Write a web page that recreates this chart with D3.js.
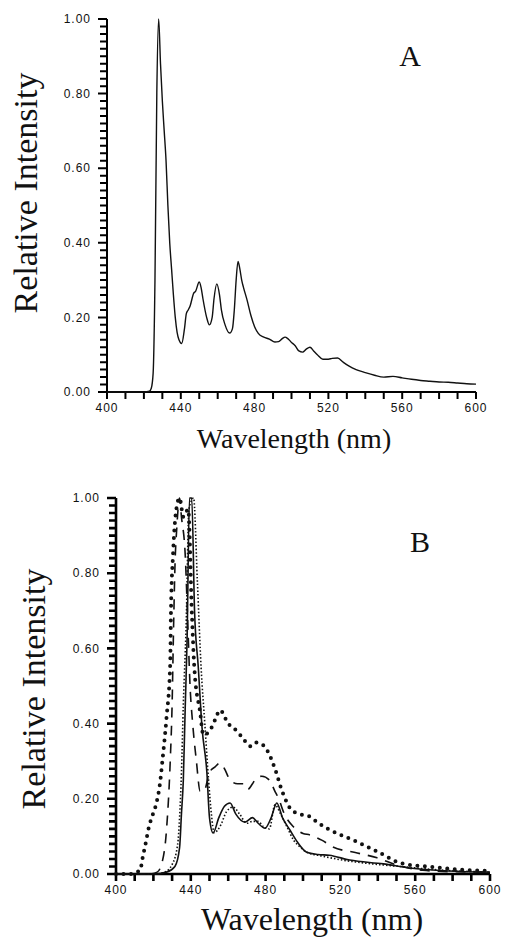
<!DOCTYPE html>
<html>
<head>
<meta charset="utf-8">
<script src="https://cdn.jsdelivr.net/npm/d3@7"></script>
<style>
  body { margin: 0; background: #fff; }
  svg { display: block; }
</style>
</head>
<body>
<svg id="chart"></svg>
<script>
// ---- data ----
const yTicks = [0, 0.2, 0.4, 0.6, 0.8, 1.0]
const xTicks = [400, 440, 480, 520, 560, 600]

// panel A : single spectrum
const nmA = [400, 410, 420, 423, 424, 425, 426, 427, 428, 429, 430, 431, 432, 433, 434, 435, 436, 437, 438, 439, 440.5, 442, 443, 444, 445, 447, 448, 450, 451, 452, 454, 455.5, 457, 458, 459.5, 461, 462, 464, 466.5, 468, 469, 470, 471, 472, 473, 474, 476, 478, 480, 482, 485, 488, 491, 493, 495, 496.5, 498, 500, 502, 504, 506, 508, 510, 512, 514, 517, 520, 522, 525, 528, 531, 535, 540, 545, 550, 555, 560, 565, 570, 575, 580, 585, 590, 595, 600]
const intA = [0, 0, 0, 0.002, 0.01, 0.05, 0.3, 0.8, 1.0, 0.88, 0.78, 0.7, 0.62, 0.5, 0.4, 0.33, 0.26, 0.2, 0.16, 0.14, 0.13, 0.17, 0.21, 0.22, 0.23, 0.265, 0.27, 0.295, 0.28, 0.25, 0.2, 0.18, 0.2, 0.25, 0.29, 0.26, 0.22, 0.18, 0.158, 0.17, 0.22, 0.3, 0.35, 0.33, 0.3, 0.28, 0.245, 0.205, 0.175, 0.157, 0.147, 0.142, 0.134, 0.135, 0.143, 0.147, 0.143, 0.133, 0.124, 0.11, 0.107, 0.115, 0.12, 0.11, 0.1, 0.088, 0.088, 0.09, 0.091, 0.08, 0.07, 0.06, 0.052, 0.045, 0.04, 0.042, 0.038, 0.034, 0.031, 0.029, 0.027, 0.026, 0.024, 0.022, 0.021]

// panel B : four spectra
const nmSolid = [400, 420, 427, 431.5, 434, 435, 436, 437, 438, 439.3, 440.5, 442, 444, 446, 448.6, 450, 451.9, 455, 458, 461, 464, 469, 473, 476, 479.7, 483, 486, 489, 493, 497, 502, 508, 514, 525, 543, 557, 578, 600]
const intSolid = [0, 0, 0.005, 0.02, 0.07, 0.16, 0.25, 0.44, 0.62, 1.0, 1.0, 0.7, 0.55, 0.39, 0.27, 0.15, 0.109, 0.15, 0.18, 0.189, 0.16, 0.138, 0.15, 0.135, 0.122, 0.15, 0.189, 0.15, 0.117, 0.085, 0.058, 0.052, 0.05, 0.037, 0.027, 0.016, 0.008, 0.005]

const nmDotted = [400, 420, 426, 430, 433, 434, 435, 436, 437.5, 439, 441.5, 443.5, 445.5, 447.5, 449.5, 451, 452.5, 456, 459, 462.6, 466, 470, 473, 476, 479, 482, 485, 488, 491, 495, 498.4, 502, 510, 520, 535, 552, 575, 600]
const intDotted = [0, 0, 0.005, 0.025, 0.08, 0.15, 0.27, 0.45, 0.66, 0.97, 1.0, 0.78, 0.55, 0.4, 0.25, 0.16, 0.11, 0.13, 0.165, 0.178, 0.16, 0.135, 0.14, 0.14, 0.125, 0.12, 0.184, 0.16, 0.13, 0.09, 0.072, 0.058, 0.048, 0.038, 0.028, 0.02, 0.01, 0.005]

const nmDashed = [400, 418, 422, 424.6, 427, 429, 430, 430.8, 431.6, 432.5, 434, 435, 437, 438.5, 439.6, 441, 443, 445, 447, 450, 453, 455.6, 458, 461, 465, 468, 470.5, 473, 475, 478, 482, 485, 487, 490, 495, 500, 503.7, 510, 516, 529, 539.6, 550, 564, 580, 600]
const intDashed = [0, 0, 0.005, 0.03, 0.117, 0.3, 0.45, 0.66, 0.83, 0.92, 1.0, 0.95, 0.85, 0.65, 0.5, 0.4, 0.3, 0.22, 0.22, 0.27, 0.285, 0.295, 0.28, 0.25, 0.24, 0.24, 0.225, 0.24, 0.255, 0.26, 0.25, 0.22, 0.2, 0.16, 0.125, 0.108, 0.104, 0.09, 0.072, 0.056, 0.043, 0.024, 0.01, 0.006, 0.005]

const nmDots = [400, 408, 411, 413, 414, 416, 417.6, 419.6, 421.7, 423.5, 425, 427, 429, 429.4, 430.5, 432, 434, 436, 438.6, 440.6, 442, 445, 446.7, 450, 453, 455.6, 460, 464.7, 468, 471.7, 474.5, 477, 480.7, 485, 489, 494, 500, 504, 507, 514.4, 527, 539.6, 553, 568, 585.6, 600]
const intDots = [0, 0, 0.005, 0.01, 0.037, 0.085, 0.125, 0.157, 0.19, 0.24, 0.31, 0.415, 0.56, 0.7, 0.85, 0.96, 1.0, 0.95, 0.97, 0.69, 0.54, 0.43, 0.37, 0.38, 0.41, 0.436, 0.4, 0.38, 0.36, 0.34, 0.35, 0.348, 0.33, 0.28, 0.218, 0.17, 0.157, 0.152, 0.14, 0.117, 0.09, 0.06, 0.028, 0.019, 0.011, 0.008]

const svg = d3.select('#chart').attr('width', 506).attr('height', 943)

const panels = [
  {
    id: 'a',
    x: d3.scaleLinear().domain([400, 600]).range([107, 476]),
    y: d3.scaleLinear().domain([0, 1]).range([392, 19]),
    axisWidth: 2,
    series: [{ nm: nmA, val: intA, width: 1.4, dash: null }],
    letter: 'A', letterPos: [410, 66],
    yTitlePos: [37, 193], yTitleSize: 34,
    xTitlePos: [294, 448], xTitleSize: 28
  },
  {
    id: 'b',
    x: d3.scaleLinear().domain([400, 600]).range([116, 490]),
    y: d3.scaleLinear().domain([0, 1]).range([874, 498]),
    axisWidth: 2.6,
    series: [
      { nm: nmSolid, val: intSolid, width: 1.6, dash: null },
      { nm: nmDotted, val: intDotted, width: 1.6, dash: '1.5,2' },
      { nm: nmDashed, val: intDashed, width: 1.6, dash: '10,8' },
      { nm: nmDots, val: intDots, width: 4, dash: '0,7.5', cap: 'round' }
    ],
    letter: 'B', letterPos: [420, 552],
    yTitlePos: [45, 689], yTitleSize: 34,
    xTitlePos: [312, 930], xTitleSize: 32
  }
]

panels.forEach(p => {
  const [x0, x1] = p.x.range()
  const [y0, y1] = p.y.range()

  // y axis: the line plus a tick every 0.02, all in one path
  const yPath = d3.path()
  yPath.moveTo(x0, y0 + 1)
  yPath.lineTo(x0, y1)
  d3.range(0, 51).forEach(i => {
    const yy = p.y(i / 50)
    yPath.moveTo(x0 - (i % 10 === 0 ? 9 : 7), yy)
    yPath.lineTo(x0, yy)
  })
  svg.append('path')
    .attr('d', yPath.toString())
    .attr('fill', 'none')
    .attr('stroke', '#000')
    .attr('stroke-width', p.axisWidth)

  // x axis: the line plus a tick every 10 nm
  const xPath = d3.path()
  xPath.moveTo(x0, y0)
  xPath.lineTo(x1, y0)
  d3.range(400, 601, 10).forEach(v => {
    xPath.moveTo(p.x(v), y0)
    xPath.lineTo(p.x(v), y0 + 7)
  })
  svg.append('path')
    .attr('d', xPath.toString())
    .attr('fill', 'none')
    .attr('stroke', '#000')
    .attr('stroke-width', p.axisWidth)

  // tick labels
  svg.selectAll('text.yl' + p.id)
    .data(yTicks)
    .join('text')
    .attr('class', 'yl' + p.id)
    .attr('x', x0 - 16)
    .attr('y', d => p.y(d))
    .attr('dy', '0.35em')
    .attr('text-anchor', 'end')
    .attr('font-family', "'Liberation Sans', Arial, sans-serif")
    .attr('font-size', 12)
    .attr('letter-spacing', 1)
    .attr('fill', '#111')
    .text(d => d.toFixed(2))

  svg.selectAll('text.xl' + p.id)
    .data(xTicks)
    .join('text')
    .attr('class', 'xl' + p.id)
    .attr('x', d => p.x(d))
    .attr('y', y0 + 20)
    .attr('text-anchor', 'middle')
    .attr('font-family', "'Liberation Sans', Arial, sans-serif")
    .attr('font-size', 12)
    .attr('letter-spacing', 1)
    .attr('fill', '#111')
    .text(d => d)

  // curves
  const line = d3.line()
    .x(d => p.x(d[0]))
    .y(d => p.y(d[1]))
    .curve(d3.curveMonotoneX)

  p.series.forEach(s => {
    svg.append('path')
      .datum(d3.zip(s.nm, s.val))
      .attr('d', line)
      .attr('fill', 'none')
      .attr('stroke', '#111')
      .attr('stroke-width', s.width)
      .attr('stroke-dasharray', s.dash)
      .attr('stroke-linecap', s.cap || 'butt')
      .attr('stroke-linejoin', 'round')
  })

  // titles
  const serif = "'Liberation Serif', 'Times New Roman', serif"
  svg.append('text')
    .attr('transform', `translate(${p.yTitlePos[0]},${p.yTitlePos[1]}) rotate(-90)`)
    .attr('text-anchor', 'middle')
    .attr('font-family', serif)
    .attr('font-size', p.yTitleSize)
    .attr('fill', '#111')
    .text('Relative Intensity')

  svg.append('text')
    .attr('x', p.xTitlePos[0])
    .attr('y', p.xTitlePos[1])
    .attr('text-anchor', 'middle')
    .attr('font-family', serif)
    .attr('font-size', p.xTitleSize)
    .attr('fill', '#111')
    .text('Wavelength (nm)')

  svg.append('text')
    .attr('x', p.letterPos[0])
    .attr('y', p.letterPos[1])
    .attr('text-anchor', 'middle')
    .attr('font-family', serif)
    .attr('font-size', 30)
    .attr('fill', '#111')
    .text(p.letter)
})
</script>
</body>
</html>
